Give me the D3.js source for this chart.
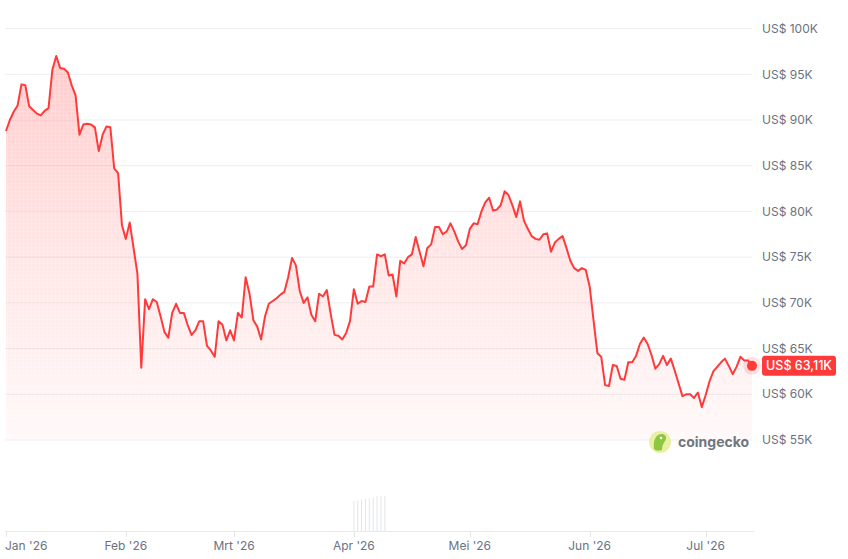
<!DOCTYPE html>
<html><head><meta charset="utf-8">
<script src="https://cdn.jsdelivr.net/npm/d3@7"></script>
<style>
html,body{margin:0;padding:0;background:#fff;}
svg{display:block;font-family:Inter,"Noto Sans",sans-serif;}
</style></head>
<body><svg id="c" width="848" height="559"></svg>
<script>
// ---- data ----
const startDate = "2026-01-01";
// daily BTC price in thousands of US$
const pricesK = [
88.8,90.0,90.9,91.6,93.9,93.8,91.5,91.1,90.7,90.5,
91.0,91.3,95.5,97.0,95.7,95.6,95.2,93.8,92.7,88.4,
89.5,89.6,89.5,89.2,86.6,88.4,89.3,89.2,84.7,84.2,
78.5,77.0,78.8,76.0,73.2,62.9,70.4,69.3,70.4,70.1,
68.5,66.8,66.2,68.9,69.9,68.9,68.9,67.6,66.5,67.0,
68.0,68.0,65.3,64.8,64.1,68.0,67.6,65.9,67.0,65.9,
68.9,68.4,72.8,71.0,68.1,67.4,66.0,68.5,69.9,70.2,
70.5,70.9,71.2,72.8,74.9,74.1,71.3,70.0,70.6,68.7,
68.0,71.0,70.7,71.4,68.8,66.5,66.4,66.0,66.7,68.0,
71.5,69.9,70.2,70.1,71.8,71.8,75.3,75.1,75.3,73.0,
73.1,70.7,74.6,74.3,75.0,75.3,77.2,75.6,74.0,76.0,
76.4,78.3,78.3,77.5,77.8,78.7,77.8,76.7,75.9,76.3,
78.1,78.7,78.6,80.0,81.0,81.5,80.1,80.2,80.7,82.2,
81.8,80.7,79.4,81.1,79.0,78.1,77.3,77.0,76.9,77.5,
77.6,75.6,76.6,77.0,77.3,76.0,74.6,73.8,73.5,73.8,
73.6,71.8,68.1,64.5,64.1,61.0,60.9,63.2,63.1,61.7,
61.6,63.5,63.5,64.2,65.5,66.2,65.5,64.3,62.8,63.3,
64.2,63.2,63.9,62.6,61.2,59.8,60.0,60.0,59.6,60.2,
58.6,59.9,61.4,62.5,63.0,63.5,63.9,63.1,62.2,63.0,
64.1,63.7,63.7,63.11
];
const yTicksK = [55,60,65,70,75,80,85,90,95,100];
const xTickDates = ["2026-01-01","2026-02-01","2026-03-01","2026-04-01","2026-05-01","2026-06-01","2026-07-01"];
const xTickLabels = ["Jan '26","Feb '26","Mrt '26","Apr '26","Mei '26","Jun '26","Jul '26"];
const volDates = ["2026-04-01","2026-04-02","2026-04-03","2026-04-04","2026-04-05","2026-04-06","2026-04-07","2026-04-08","2026-04-09"];
const volValues = [0.86,0.88,0.9,0.92,0.94,0.96,1.0,1.0,1.0];
const lastLabel = "US$ 63,11K";

// ---- layout ----
const parse = d3.utcParse("%Y-%m-%d");
const t0 = parse(startDate);
const data = pricesK.map((v,i)=>({date:d3.utcDay.offset(t0,i), v}));
const svg = d3.select("#c");
const X0 = 6, X1 = 752;
const x = d3.scaleUtc().domain([data[0].date, data[data.length-1].date]).range([X0, X1]);
const y = d3.scaleLinear().domain([55,100]).range([440,28.6]);
const gray = "#6b7280";
const red = "#ff3a3a";

// gridlines
svg.append("g").selectAll("line").data(yTicksK).join("line")
  .attr("x1",5).attr("x2",X1).attr("y1",d=>y(d)).attr("y2",d=>y(d))
  .attr("stroke","#eceef2").attr("stroke-width",1);

// gradient + pattern
const defs = svg.append("defs");
const grad = defs.append("linearGradient").attr("id","g1")
  .attr("gradientUnits","userSpaceOnUse").attr("x1",0).attr("x2",0).attr("y1",y(97)).attr("y2",y(55));
grad.append("stop").attr("offset",0).attr("stop-color",red).attr("stop-opacity",0.26);
grad.append("stop").attr("offset",0.5).attr("stop-color",red).attr("stop-opacity",0.13);
grad.append("stop").attr("offset",1).attr("stop-color",red).attr("stop-opacity",0.03);
const pat = defs.append("pattern").attr("id","p1").attr("patternUnits","userSpaceOnUse").attr("width",4).attr("height",4);
pat.append("rect").attr("x",0).attr("y",3).attr("width",4).attr("height",1).attr("fill","#fff").attr("opacity",0.2);
pat.append("rect").attr("x",3).attr("y",0).attr("width",1).attr("height",3).attr("fill","#fff").attr("opacity",0.2);

const area = d3.area().x(d=>x(d.date)).y0(y(55)).y1(d=>y(d.v));
svg.append("path").datum(data).attr("d",area).attr("fill","url(#g1)");
svg.append("path").datum(data).attr("d",area).attr("fill","url(#p1)");

const line = d3.line().x(d=>x(d.date)).y(d=>y(d.v));
svg.append("path").datum(data).attr("d",line).attr("fill","none")
  .attr("stroke",red).attr("stroke-width",2).attr("stroke-linejoin","round");

// y labels
svg.append("g").selectAll("text").data(yTicksK).join("text")
  .attr("x",762).attr("y",d=>y(d)).attr("dy","0.35em")
  .attr("fill",gray).attr("font-size",12).text(d=>"US$ "+d+"K");

// last point
const last = data[data.length-1];
svg.append("circle").attr("cx",x(last.date)).attr("cy",y(last.v)).attr("r",9).attr("fill",red).attr("opacity",0.15);
svg.append("circle").attr("cx",x(last.date)).attr("cy",y(last.v)).attr("r",5).attr("fill",red);
svg.append("rect").attr("x",762).attr("y",y(last.v)-10).attr("width",74).attr("height",20).attr("rx",3).attr("fill",red);
svg.append("text").attr("x",799).attr("y",y(last.v)).attr("dy","0.36em").attr("text-anchor","middle")
  .attr("fill","#fff").attr("font-size",12.5).attr("font-weight",500).text(lastLabel);

// coingecko watermark
const wm = svg.append("g").attr("transform","translate(660,442)");
wm.append("circle").attr("r",11).attr("fill","#e9f0a4");
wm.append("path").attr("d","M-6,7 C-7,-2 -4,-8 2,-8 C6,-8 7,-4 5,-1 C3,2 2,4 2,8 C-1,9 -4,9 -6,7 Z").attr("fill","#8dc63f");
wm.append("circle").attr("cx",1).attr("cy",-4).attr("r",1.3).attr("fill","#fff");
svg.append("text").attr("x",678).attr("y",442).attr("dy","0.35em").attr("fill","#707680")
  .attr("font-size",14).attr("font-weight",700).text("coingecko");

// volume bars
const vy = d3.scaleLinear().domain([0,1]).range([531,496]);
svg.append("g").selectAll("line").data(volDates).join("line")
  .attr("x1",d=>x(parse(d))).attr("x2",d=>x(parse(d)))
  .attr("y1",531).attr("y2",(d,i)=>vy(volValues[i]))
  .attr("stroke","#e3e5e9").attr("stroke-width",1);

// x axis
svg.append("line").attr("x1",5).attr("x2",755).attr("y1",531.5).attr("y2",531.5).attr("stroke","#e8eaee");
const xt = xTickDates.map(parse);
svg.append("g").selectAll("line").data(xt).join("line")
  .attr("x1",d=>Math.round(x(d))+0.5).attr("x2",d=>Math.round(x(d))+0.5).attr("y1",531).attr("y2",537)
  .attr("stroke","#e3e5e9");
svg.append("g").selectAll("text").data(xt).join("text")
  .attr("x",(d,i)=>i===0?5:x(d)).attr("y",546).attr("dy","0.35em")
  .attr("text-anchor",(d,i)=>i===0?"start":"middle")
  .attr("fill",gray).attr("font-size",12).text((d,i)=>xTickLabels[i]);
</script>
</body></html>
